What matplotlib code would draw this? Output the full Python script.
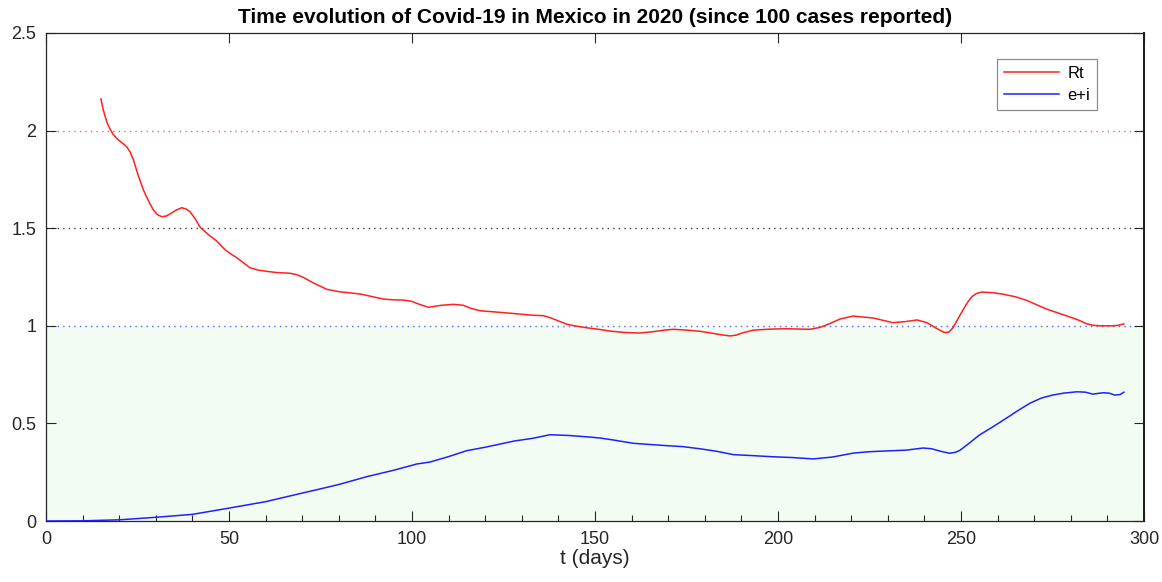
import matplotlib
matplotlib.use("Agg")
import matplotlib.pyplot as plt
from matplotlib.ticker import MultipleLocator

plt.rcParams['font.family'] = ['Liberation Sans', 'DejaVu Sans']

# Effective reproduction number Rt
rt_t = [15.0, 15.6, 16.2, 16.8, 17.5, 18.3, 19.3, 20.6, 22.0, 23.0, 23.9, 25.2, 26.6,
        28.0, 29.3, 30.4, 31.6, 32.8, 33.9, 35.5, 37.1, 38.3, 39.3, 40.7, 42.1, 44.5,
        46.6, 48.9, 50.3, 52.0, 54.0, 55.7, 58.0, 60.3, 63.0, 66.7, 68.5, 70.3, 73.0,
        76.7, 80.0, 85.8, 89.0, 92.2, 95.0, 97.6, 100.0, 102.0, 104.5, 108.0, 111.3,
        114.0, 116.0, 118.6, 124.0, 129.5, 133.0, 135.9, 138.0, 140.0, 142.3, 145.0,
        147.7, 151.0, 154.1, 158.0, 162.3, 166.0, 169.0, 171.4, 175.0, 178.7, 182.0,
        184.5, 186.9, 188.5, 190.0, 193.3, 198.0, 202.4, 208.7, 211.5, 214.0, 217.0,
        220.5, 226.0, 231.4, 235.0, 238.0, 240.7, 243.0, 244.5, 245.6, 246.7, 247.8,
        249.0, 250.5, 251.8, 253.0, 254.3, 255.7, 258.5, 261.5, 265.0, 268.0, 271.0,
        273.5, 279.0, 282.0, 284.4, 286.0, 288.0, 291.5, 293.0, 294.5]
rt_v = [2.162, 2.11, 2.07, 2.035, 2.008, 1.982, 1.96, 1.94, 1.918, 1.89, 1.849, 1.77,
        1.696, 1.64, 1.594, 1.57, 1.559, 1.562, 1.573, 1.592, 1.605, 1.598, 1.585,
        1.55, 1.505, 1.465, 1.435, 1.39, 1.371, 1.35, 1.322, 1.298, 1.285, 1.279, 1.273,
        1.269, 1.262, 1.248, 1.22, 1.187, 1.175, 1.163, 1.15, 1.137, 1.133, 1.132,
        1.125, 1.11, 1.095, 1.105, 1.11, 1.105, 1.09, 1.077, 1.069, 1.060, 1.054, 1.052,
        1.04, 1.025, 1.008, 0.998, 0.990, 0.982, 0.973, 0.966, 0.963, 0.970, 0.978,
        0.982, 0.978, 0.972, 0.962, 0.954, 0.948, 0.952, 0.962, 0.978, 0.983, 0.985,
        0.982, 0.992, 1.01, 1.035, 1.05, 1.04, 1.016, 1.022, 1.03, 1.016, 0.99, 0.975,
        0.965, 0.968, 0.99, 1.03, 1.08, 1.12, 1.15, 1.166, 1.173, 1.17, 1.162, 1.148,
        1.13, 1.105, 1.085, 1.05, 1.03, 1.01, 1.003, 1.0, 1.0, 1.003, 1.01]

# Exposed + infected fraction
ei_t = [0, 10, 20, 30, 40, 50, 60, 70, 74.4, 80, 87.6, 95, 101.3, 104.9, 110, 114.9,
        120, 124, 128, 133.1, 137.7, 143, 148.6, 151.4, 155, 160.5, 165, 169.6, 174,
        178.7, 183, 187.8, 193, 198.7, 204, 209.6, 215, 220.6, 225, 229.7, 235, 239.7,
        242, 244.5, 246.9, 248.5, 249.7, 252, 255, 258.5, 262.5, 265.5, 268.9, 272, 275,
        278, 281.7, 284, 286, 288.8, 290.5, 292, 293.5, 294.5]
ei_v = [0.0, 0.001, 0.006, 0.019, 0.034, 0.066, 0.099, 0.143, 0.162, 0.187, 0.227, 0.26,
        0.292, 0.302, 0.33, 0.36, 0.378, 0.394, 0.41, 0.424, 0.442, 0.438, 0.43, 0.425,
        0.415, 0.398, 0.392, 0.386, 0.381, 0.370, 0.358, 0.340, 0.335, 0.329, 0.325,
        0.318, 0.328, 0.348, 0.355, 0.359, 0.363, 0.374, 0.37, 0.357, 0.347, 0.352,
        0.362, 0.395, 0.44, 0.48, 0.528, 0.565, 0.604, 0.63, 0.645, 0.655, 0.662, 0.66,
        0.65, 0.657, 0.655, 0.645, 0.648, 0.66]

x_lim = (0, 300)
y_lim = (0, 2.5)
ref_levels = [2.0, 1.5, 1.0]
ref_colors = ['#ff6060', '#404040', '#6060ff']

fig = plt.figure(figsize=(11.62, 5.82), dpi=100)
ax = fig.add_axes([0.0396, 0.1048, 0.9449, 0.8385])

# shaded region where Rt < 1
ax.fill_between(x_lim, [0, 0], [1, 1], color='#f2fcf2', linewidth=0, zorder=0)

for lvl, c in zip(ref_levels, ref_colors):
    ax.plot(x_lim, [lvl, lvl], linestyle=(0, (1, 3)), color=c, linewidth=1.0, zorder=1)

ax.plot(rt_t, rt_v, color='#ff2020', linewidth=1.1, label='Rt', zorder=3)
ax.plot(ei_t, ei_v, color='#2020ff', linewidth=1.1, label='e+i', zorder=3)

ax.set_xlim(*x_lim)
ax.set_ylim(*y_lim)
ax.xaxis.set_major_locator(MultipleLocator(50))
ax.xaxis.set_minor_locator(MultipleLocator(10))
ax.tick_params(which='major', direction='in', length=7, width=0.8, color='#262626',
               top=True, right=True, labelsize=13, labelcolor='#262626', pad=7)
ax.tick_params(which='minor', direction='in', length=4, width=0.8, color='#262626',
               top=False, right=False)
ax.set_yticks([0, 0.5, 1, 1.5, 2, 2.5])
ax.set_yticklabels(['0', '0.5', '1', '1.5', '2', '2.5'])

for side in ['left', 'bottom', 'top']:
    ax.spines[side].set_color('#262626')
    ax.spines[side].set_linewidth(0.9)
ax.spines['right'].set_color('#1a1a1a')
ax.spines['right'].set_linewidth(1.4)

ax.set_xlabel('t (days)', fontsize=15, color='#262626', labelpad=1)
ax.set_title('Time evolution of Covid-19 in Mexico in 2020 (since 100 cases reported)',
             fontsize=15, fontweight='bold', pad=7)

leg = ax.legend(loc='upper right', bbox_to_anchor=(0.957, 0.9467), borderaxespad=0,
                fontsize=12, frameon=True, fancybox=False, handlelength=3.3,
                handletextpad=0.5, borderpad=0.4, labelspacing=0.45)
leg.get_frame().set_edgecolor('#707070')
leg.get_frame().set_linewidth(0.9)

fig.savefig('out.png', dpi=100, facecolor='white')
